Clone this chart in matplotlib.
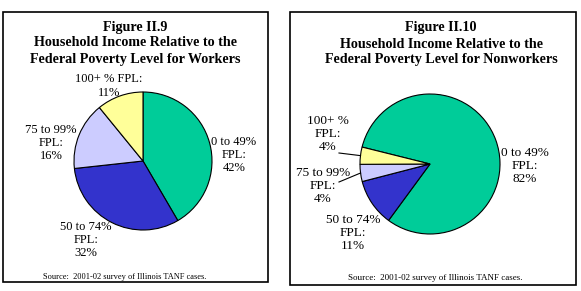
import matplotlib.pyplot as plt
from matplotlib.patches import Rectangle
import numpy as np

W, H = 581, 291

categories = ['0 to 49%', '50 to 74%', '75 to 99%', '100+ %']
workers = [42, 32, 16, 11]
nonworkers = [82, 11, 4, 4]
colors = ['#00cc99', '#3333cc', '#ccccff', '#ffff99']

left_title = 'Figure II.9\nHousehold Income Relative to the\nFederal Poverty Level for Workers'
right_title = 'Figure II.10\nHousehold Income Relative to the\nFederal Poverty Level for Nonworkers'
source = 'Source:  2001-02 survey of Illinois TANF cases.'

plt.rcParams['font.family'] = ['Liberation Serif', 'DejaVu Serif']

fig = plt.figure(figsize=(W / 100, H / 100), dpi=100)
ax = fig.add_axes([0, 0, 1, 1])


def Y(y):
    # pixel rows counted from the top
    return H - y


def draw_pie(values, cx, cy, r, start):
    wedges, _ = ax.pie(values, colors=colors, center=(cx, Y(cy)), radius=r,
                       startangle=start, counterclock=False,
                       wedgeprops=dict(edgecolor='black', linewidth=0.8))
    return wedges


def label(x, y, cat, val, one_line=False, size=9):
    sep = ' ' if one_line else '\n'
    lines = cat + sep + 'FPL:\n' + '%d%%' % val
    ax.text(x, Y(y), lines, ha='center', va='center', fontsize=size,
            linespacing=1.15)


# panel frames
ax.add_patch(Rectangle((3, Y(282)), 265, 270, fill=False, lw=1.2, ec='black'))
ax.add_patch(Rectangle((290, Y(285)), 286, 273, fill=False, lw=1.2, ec='black'))

# workers
draw_pie(workers, 143, 161, 69, 90)
ax.text(135, Y(43), left_title, ha='center', va='center', fontsize=10.2,
        fontweight='bold', linespacing=1.3)
label(234, 155, categories[0], workers[0])
label(86, 240, categories[1], workers[1])
label(51, 143, categories[2], workers[2])
label(109, 86, categories[3], workers[3], one_line=True)
ax.text(125, Y(277), source, ha='center', va='center', fontsize=6)

# nonworkers
wedges = draw_pie(nonworkers, 430, 164, 70, 166)
ax.text(441, Y(44), right_title, ha='center', va='center', fontsize=10.2,
        fontweight='bold', linespacing=1.3)
label(525, 166, categories[0], nonworkers[0], size=9.5)
label(353, 233, categories[1], nonworkers[1], size=9.5)
label(323, 186, categories[2], nonworkers[2], size=9.5)
label(328, 134, categories[3], nonworkers[3], size=9.5)
ax.text(435, Y(278), source, ha='center', va='center', fontsize=6.5)

# leader lines for the two thin slices
for w, (tx, ty) in zip(wedges[2:], [(339, 182), (339, 153)]):
    mid = np.deg2rad((w.theta1 + w.theta2) / 2)
    ex = 430 + 70 * np.cos(mid)
    ey = Y(164) + 70 * np.sin(mid)
    ax.plot([tx, ex], [Y(ty), ey], color='black', lw=0.8)

ax.set_xlim(0, W)
ax.set_ylim(0, H)
ax.set_aspect('auto')
ax.axis('off')

fig.savefig('out.png', dpi=100)
